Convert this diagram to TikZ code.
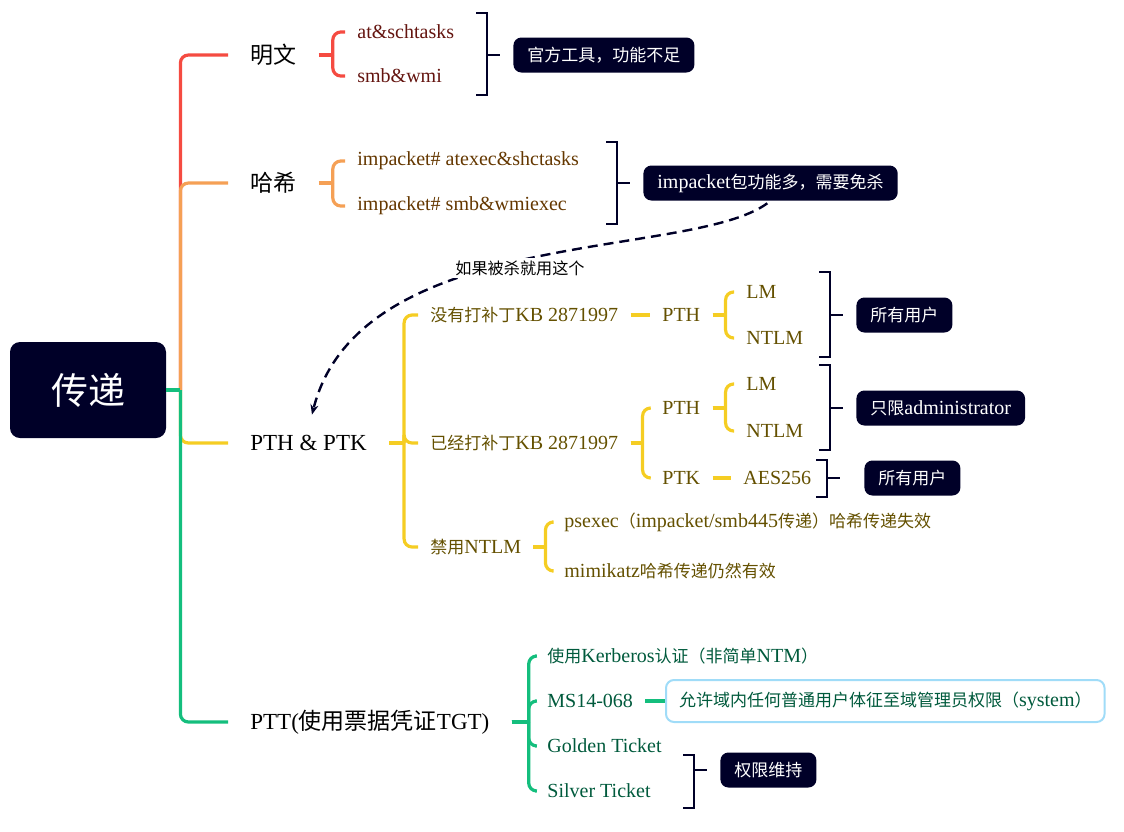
\documentclass[tikz,border=0pt]{standalone}
\usepackage{fontspec}
\setmainfont{Liberation Serif}
\newfontfamily\zh[Scale=0.85]{Noto Sans CJK SC}
\newfontfamily\zhb{Noto Sans CJK SC}
\usetikzlibrary{arrows.meta}
\definecolor{navy}{RGB}{0,0,40}
\definecolor{lred}{RGB}{245,75,65}
\definecolor{lorange}{RGB}{245,160,85}
\definecolor{lyellow}{RGB}{245,205,35}
\definecolor{lgreen}{RGB}{20,190,125}
\definecolor{lcyan}{RGB}{160,220,248}
\definecolor{tred}{RGB}{100,20,15}
\definecolor{torange}{RGB}{100,55,0}
\definecolor{tyellow}{RGB}{100,80,0}
\definecolor{tgreen}{RGB}{0,90,60}

\begin{document}
\begin{tikzpicture}[x=0.5pt,y=-0.5pt,>=Stealth,
  rootbox/.style={fill=navy,text=white,rounded corners=5pt,minimum width=78pt,minimum height=48pt,font=\fontsize{18.5}{22}\zhb},
  topic/.style={anchor=west,inner xsep=11pt,font=\fontsize{11.5}{14}\selectfont},
  sub/.style={anchor=west,inner xsep=6pt,text=#1,font=\fontsize{10}{12}\selectfont},
  note/.style={anchor=west,fill=navy,text=white,rounded corners=4pt,inner xsep=7pt,minimum height=17.5pt,font=\fontsize{10}{12}\selectfont},
  sysbox/.style={anchor=west,draw=lcyan,line width=1pt,fill=white,rounded corners=4pt,inner xsep=6.5pt,minimum height=21pt,text=tgreen,font=\fontsize{10}{12}\selectfont},
  rl/.style={draw=lred,line width=1.6pt},
  ol/.style={draw=lorange,line width=1.6pt},
  yl/.style={draw=lyellow,line width=1.6pt},
  gl/.style={draw=lgreen,line width=1.6pt},
  rc/.style={rounded corners=4pt},
  brk/.style={draw=navy,line width=1pt},
  killarrow/.style={draw=navy,line width=1.2pt,dash pattern=on 5pt off 3pt,-{Stealth[length=5pt,width=4pt]}}]
  \useasboundingbox (0,0) rectangle (1124,831);
  % root and first level
  \node[rootbox] (root) at (88,390) {传递};
  \node[topic] (mw) at (228,55) {{\zhb 明文}};
  \node[topic] (hx) at (228,183) {{\zhb 哈希}};
  \node[topic] (pp) at (228,443) {PTH \& PTK};
  \node[topic] (ptt) at (228,722) {PTT({\zhb 使用票据凭证}TGT)};
  % plain text
  \node[sub=tred] (at) at (345,32) {at\&schtasks};
  \node[sub=tred] (smb) at (345,76) {smb\&wmi};
  % hash
  \node[sub=torange] (ia) at (345,161) {impacket\# atexec\&shctasks};
  \node[sub=torange] (is) at (345,206) {impacket\# smb\&wmiexec};
  % pth & ptk
  \node[sub=tyellow] (n1) at (418,315) {{\zh 没有打补丁}KB 2871997};
  \node[sub=tyellow] (n2) at (418,443) {{\zh 已经打补丁}KB 2871997};
  \node[sub=tyellow] (n3) at (418,547) {{\zh 禁用}NTLM};
  \node[sub=tyellow] (pth1) at (650,315) {PTH};
  \node[sub=tyellow] (lm1) at (734,292) {LM};
  \node[sub=tyellow] (ntlm1) at (734,338) {NTLM};
  \node[sub=tyellow] (pth2) at (650,408) {PTH};
  \node[sub=tyellow] (ptk) at (650,478) {PTK};
  \node[sub=tyellow] (lm2) at (734,384) {LM};
  \node[sub=tyellow] (ntlm2) at (734,431) {NTLM};
  \node[sub=tyellow] (aes) at (731,478) {AES256};
  \node[sub=tyellow] (ps) at (552,522) {psexec{\zh （}impacket/smb445{\zh 传递）哈希传递失效}};
  \node[sub=tyellow] (mk) at (552,571) {mimikatz{\zh 哈希传递仍然有效}};
  % ptt
  \node[sub=tgreen] (kb) at (535,656) {{\zh 使用}Kerberos{\zh 认证（非简单}NTM{\zh ）}};
  \node[sub=tgreen] (ms) at (535,701) {MS14-068};
  \node[sub=tgreen] (gt) at (535,746) {Golden Ticket};
  \node[sub=tgreen] (st) at (535,791) {Silver Ticket};
  \node[sysbox] (sb) at (665,701) {{\zh 允许域内任何普通用户体征至域管理员权限（}system{\zh ）}};
  % summaries
  \node[note] (s1) at (513,55) {{\zh 官方工具，功能不足}};
  \node[note] (s2) at (643,183) {impacket{\zh 包功能多，需要免杀}};
  \node[note] (s3) at (856,315) {{\zh 所有用户}};
  \node[note] (s4) at (856,408) {{\zh 只限}administrator};
  \node[note] (s5) at (864,478) {{\zh 所有用户}};
  \node[note] (s6) at (720,770) {{\zh 权限维持}};
  % main branches
  \foreach \c/\s in {mw/rl,hx/ol,pp/yl,ptt/gl}{
    \draw[\s] (root.east) -- ++(14,0);
    \draw[\s,rc] ([xshift=7pt]root.east) |- (\c.west); }
  % sub branches
  \foreach \p/\c/\d/\s in {mw/at/14/rl,mw/smb/14/rl,hx/ia/14/ol,hx/is/14/ol,
    pp/n1/15/yl,pp/n2/15/yl,pp/n3/15/yl,pth1/lm1/13/yl,pth1/ntlm1/13/yl,
    n2/pth2/12/yl,n2/ptk/12/yl,pth2/lm2/13/yl,pth2/ntlm2/13/yl,n3/ps/12/yl,n3/mk/12/yl,
    ptt/kb/17/gl,ptt/ms/17/gl,ptt/gt/17/gl,ptt/st/17/gl}{
    \draw[\s] (\p.east) -- ++(\d,0);
    \draw[\s,rc] ([xshift=\d*0.5pt]\p.east) |- (\c.west); }
  \draw[yl] (n1.east) -- (pth1.west);
  \draw[yl] (ptk.east) -- (aes.west);
  \draw[gl] (ms.east) -- (sb.west);
  % summary brackets
  \foreach \x/\t/\b/\m/\s/\g in {487/13/95/55/s1/6.5pt,617/142/224/183/s2/6.5pt,830/272/357/315/s3/6.5pt,
    830/365/450/408/s4/6.5pt,827/460/497/478/s5/12pt,694/755/808/770/s6/6.5pt}{
    \draw[brk] ({\x-11},\t) -- (\x,\t) -- (\x,\b) -- ({\x-11},\b);
    \draw[brk,shorten >=\g] (\x,\m) -- (\s.west); }
  % if detected
  \draw[killarrow,shorten <=2pt,shorten >=7pt] (s2.south) .. controls (690,260) and (360,225) .. (pp.north);
  \node[fill=white,inner sep=1pt,font=\fontsize{9.5}{11}\zh] (kl) at (520,268) {如果被杀就用这个};
\end{tikzpicture}
\end{document}
